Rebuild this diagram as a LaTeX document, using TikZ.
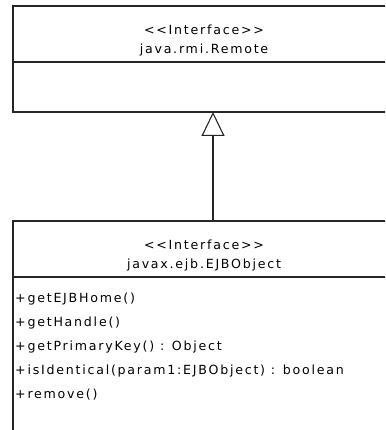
\documentclass[tikz,border=0pt]{standalone}
\usepackage{fontspec}
\setmainfont{DejaVu Sans}[LetterSpace=14]
\usetikzlibrary{arrows.meta,positioning}
\tikzset{umlbox/.style={
  line width=1.3pt,black!85,line join=miter
  },
  umltext/.style={inner sep=0pt,font=\fontsize{12.6}{14}\selectfont},
  opline/.style={umltext,anchor=west},
  realizes/.style={line width=1.1pt,black!85,
    -{Triangle[open,length=24pt,width=23pt,fill=white]}}
}

\begin{document}
\begin{tikzpicture}[x=1pt,y=-1pt]
  \useasboundingbox (0,0) rectangle (385,430);
  \clip (0,0) rectangle (385,430);
  % java.rmi.Remote
  \coordinate (rTL) at (13,6);
  \coordinate (rBL) at (13,112);
  \draw[umlbox] (400,6) -- (rTL) -- (rBL) -- (400,112);
  \draw[umlbox] (13,62) -- (400,62);
  \node[umltext] (rStereo) at (204,30) {{<}{<}Interface{>}{>}};
  \node[umltext] (rName) at (204,50) {java.rmi.Remote};
  % javax.ejb.EJBObject
  \coordinate (eTL) at (13,221);
  \draw[umlbox] (400,221) -- (eTL) -- (13,440);
  \draw[umlbox] (13,277) -- (400,277);
  \node[umltext] (eStereo) at (204,245) {{<}{<}Interface{>}{>}};
  \node[umltext] (eName) at (204,265) {javax.ejb.EJBObject};
  \node[opline] (op1) at (15,299) {+getEJBHome()};
  \node[opline] (op2) at (15,323) {+getHandle()};
  \node[opline] (op3) at (15,347) {+getPrimaryKey() :  Object};
  \node[opline] (op4) at (15,371) {+isIdentical(param1:EJBObject) :  boolean};
  \node[opline] (op5) at (15,395) {+remove()};
  % realization
  \coordinate (eTop) at (213,221);
  \coordinate (rBot) at (213,112);
  \draw[realizes] (eTop) -- (rBot);
\end{tikzpicture}
\end{document}
